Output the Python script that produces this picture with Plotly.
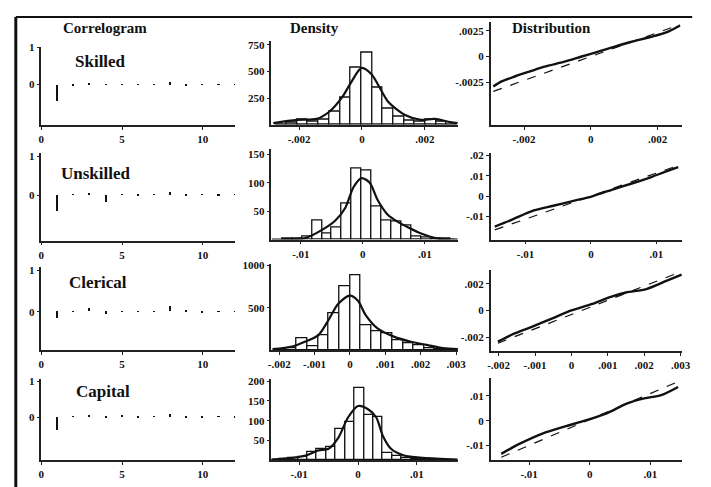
import plotly.graph_objects as go

W, H = 711, 487

# ---------------- data ----------------
row_names = ["Skilled", "Unskilled", "Clerical", "Capital"]

# Correlogram: autocorrelation by lag
lags = list(range(1, 13))
acf_skilled = [-0.45, -0.05, 0.05, 0.01, -0.01, 0.01, -0.01, 0.08, -0.04, 0.01, -0.01, 0.01]
acf_unskilled = [-0.43, 0.01, 0.05, -0.18, 0.01, -0.01, 0.01, 0.07, -0.01, 0.01, -0.01, 0.01]
acf_clerical = [-0.16, 0.01, 0.08, -0.06, 0.01, -0.01, 0.01, 0.12, 0.03, -0.03, 0.01, -0.01]
acf_capital = [-0.38, 0.01, 0.06, -0.03, 0.05, -0.01, 0.01, 0.09, -0.01, -0.03, 0.01, -0.01]

# Density: histogram bins (centres, heights, width) and kernel density curve
hist_skilled_x = [-0.00257, -0.00223, -0.00189, -0.00155, -0.00121, -0.00087, -0.00053, -0.00019,
                  0.00015, 0.00049, 0.00083, 0.00117, 0.00151, 0.00185, 0.00219, 0.00253, 0.00287]
hist_skilled_y = [5, 20, 50, 30, 45, 122, 259, 534, 677, 350, 152, 76, 35, 25, 45, 30, 5]
hist_skilled_w = 0.00034
kde_skilled_x = [-0.00282, -0.00207, -0.00144, -0.00104, -0.00063, -0.00035, -0.00001, 0.00031,
                 0.00053, 0.00084, 0.00137, 0.00187, 0.00231, 0.00281, 0.00304]
kde_skilled_y = [15, 46, 55, 122, 259, 396, 534, 472, 366, 213, 91, 46, 55, 24, 15]

hist_unskilled_x = [-0.0122, -0.0106, -0.009, -0.0074, -0.0058, -0.0042, -0.0026, -0.001, 0.0006,
                    0.0022, 0.0038, 0.0054, 0.007, 0.0086, 0.0102, 0.0118, 0.0134]
hist_unskilled_y = [1, 2, 5, 33, 11, 22, 64, 125, 122, 58, 33, 31, 25, 6, 3, 1, 1]
hist_unskilled_w = 0.0016
kde_unskilled_x = [-0.0147, -0.0092, -0.00658, -0.00448, -0.00282, -0.00151, -0.0002, 0.00111,
                   0.00242, 0.00399, 0.00565, 0.00722, 0.00931, 0.01193, 0.0153]
kde_unskilled_y = [0, 3, 17, 33, 56, 92, 108, 100, 69, 44, 31, 22, 11, 2, 0]

hist_clerical_x = [-0.00195, -0.00165, -0.00135, -0.00105, -0.00075, -0.00045, -0.00015, 0.00015,
                   0.00045, 0.00075, 0.00105, 0.00135, 0.00165, 0.00195, 0.00225, 0.00255, 0.00285]
hist_clerical_y = [10, 25, 142, 54, 180, 430, 757, 885, 296, 219, 200, 123, 85, 65, 27, 10, 5]
hist_clerical_w = 0.0003
kde_clerical_x = [-0.00219, -0.00163, -0.00126, -0.00089, -0.00061, -0.00033, 0.0, 0.00022, 0.00045,
                  0.00078, 0.00124, 0.0017, 0.00217, 0.00263, 0.00305]
kde_clerical_y = [15, 46, 104, 180, 354, 546, 642, 585, 412, 258, 162, 104, 65, 27, 15]

hist_capital_x = [-0.0142, -0.0126, -0.011, -0.0094, -0.0078, -0.0062, -0.0046, -0.003, -0.0014,
                  0.0002, 0.0018, 0.0034, 0.005, 0.0066, 0.0082, 0.0098, 0.0114, 0.013]
hist_capital_y = [1, 2, 5, 8, 21, 29, 33, 79, 96, 183, 115, 110, 18, 10, 6, 4, 2, 1]
hist_capital_w = 0.0016
kde_capital_x = [-0.0147, -0.0111, -0.0089, -0.0067, -0.005, -0.0033, -0.0017, 0.0, 0.0017, 0.0031,
                 0.0042, 0.0056, 0.0078, 0.0111, 0.0169]
kde_capital_y = [2, 6, 12, 25, 29, 58, 108, 137, 129, 108, 62, 29, 12, 6, 2]

# Distribution: quantile plot (solid) and fitted normal line (dashed)
q_skilled_x = [-0.00292, -0.00267, -0.00228, -0.00178, -0.00139, -0.00079, -0.0003, 0.0002, 0.00069,
               0.00119, 0.00178, 0.00228, 0.00267]
q_skilled_y = [-0.00289, -0.00241, -0.00193, -0.00139, -0.00098, -0.0005, -0.00002, 0.00046, 0.00094,
               0.00141, 0.00189, 0.00237, 0.00301]
ref_skilled_x = [-0.00292, 0.00267]
ref_skilled_y = [-0.00337, 0.00309]

q_unskilled_x = [-0.01471, -0.01224, -0.00874, -0.00576, -0.00269, 0.0003, 0.00329, 0.00636, 0.00934,
                 0.0113, 0.01335]
q_unskilled_y = [-0.0151, -0.0119, -0.0071, -0.0048, -0.0024, 0.0, 0.0032, 0.0063, 0.0095, 0.0119, 0.0143]
ref_unskilled_x = [-0.01471, 0.01361]
ref_unskilled_y = [-0.0167, 0.0154]

q_clerical_x = [-0.00202, -0.00156, -0.00109, -0.00054, 0.0, 0.00057, 0.00104, 0.0015, 0.00206,
                0.00261, 0.00303]
q_clerical_y = [-0.00232, -0.00171, -0.00122, -0.00061, 0.0, 0.00049, 0.00098, 0.00134, 0.00159,
                0.0022, 0.00268]
ref_clerical_x = [-0.00202, 0.00305]
ref_clerical_y = [-0.00244, 0.00293]

q_capital_x = [-0.0146, -0.0117, -0.0078, -0.0039, -0.0008, 0.0028, 0.0061, 0.009, 0.0118, 0.0146]
q_capital_y = [-0.0134, -0.0095, -0.0052, -0.0022, 0.0, 0.003, 0.0069, 0.009, 0.0103, 0.0136]
ref_capital_x = [-0.0146, 0.0150]
ref_capital_y = [-0.0148, 0.0162]

# Tick labels
corr_xticks = [0, 5, 10]
corr_yticks = [0, 1]
dens_xticks = [
    ([-0.002, 0, 0.002], ["-.002", "0", ".002"]),
    ([-0.01, 0, 0.01], ["-.01", "0", ".01"]),
    ([-0.002, -0.001, 0, 0.001, 0.002, 0.003], ["-.002", "-.001", "0", ".001", ".002", ".003"]),
    ([-0.01, 0, 0.01], ["-.01", "0", ".01"]),
]
dens_yticks = [[250, 500, 750], [50, 100, 150], [500, 1000], [50, 100, 150, 200]]
dist_yticks = [
    ([-0.0025, 0, 0.0025], ["-.0025", "0", ".0025"]),
    ([-0.01, 0, 0.01, 0.02], ["-.01", "0", ".01", ".02"]),
    ([-0.002, 0, 0.002], ["-.002", "0", ".002"]),
    ([-0.01, 0, 0.01], ["-.01", "0", ".01"]),
]

acfs = [acf_skilled, acf_unskilled, acf_clerical, acf_capital]
hists = [(hist_skilled_x, hist_skilled_y, hist_skilled_w),
         (hist_unskilled_x, hist_unskilled_y, hist_unskilled_w),
         (hist_clerical_x, hist_clerical_y, hist_clerical_w),
         (hist_capital_x, hist_capital_y, hist_capital_w)]
kdes = [(kde_skilled_x, kde_skilled_y), (kde_unskilled_x, kde_unskilled_y),
        (kde_clerical_x, kde_clerical_y), (kde_capital_x, kde_capital_y)]
qqs = [(q_skilled_x, q_skilled_y, ref_skilled_x, ref_skilled_y),
       (q_unskilled_x, q_unskilled_y, ref_unskilled_x, ref_unskilled_y),
       (q_clerical_x, q_clerical_y, ref_clerical_x, ref_clerical_y),
       (q_capital_x, q_capital_y, ref_capital_x, ref_capital_y)]

# ---------------- layout geometry (pixels) ----------------
col_px = [(38, 235), (272, 462), (495, 690)]
# per row: (top, bottom) pixel extent of each panel's plot area
corr_rows = [(42, 121), (150, 238), (265, 349), (378, 460)]
dens_rows = [(36, 121), (145, 237), (262, 349), (378, 460)]
dist_rows = [(17, 121), (150, 237), (268, 350), (377, 460)]
corr_yrange = [[-1.1, 1.02], [-1.18, 1.08], [-0.93, 1.07], [-1.22, 1.07]]
dens_xrange = [[-0.00288, 0.00306], [-0.01476, 0.0154], [-0.00222, 0.00306], [-0.0147, 0.0170]]
dens_yrange = [[0, 790], [0, 160], [0, 1010], [0, 205]]
dist_xrange = [[-0.0030, 0.00274], [-0.01534, 0.01398], [-0.00222, 0.00305], [-0.01635, 0.0153]]
dist_yrange = [[-0.0066, 0.00336], [-0.02146, 0.0210], [-0.00305, 0.0030], [-0.016, 0.0172]]

FONT = "Liberation Serif"
INK = "#111111"
tick_font = dict(family=FONT, size=11, color=INK, weight="bold")
common = dict(showline=True, linecolor="#222222", linewidth=1.5, ticks="outside", ticklen=3,
              tickwidth=1, tickcolor="#222222", showgrid=False, zeroline=False,
              tickfont=tick_font, fixedrange=True)

fig = go.Figure()
axes = {}


def names(p):
    return ("xaxis" if p == 1 else f"xaxis{p}", "yaxis" if p == 1 else f"yaxis{p}",
            "x" if p == 1 else f"x{p}", "y" if p == 1 else f"y{p}")


def set_axes(p, col, rows_px, xr, yr, xtv, xtt, ytv, ytt):
    xa, ya, xref, yref = names(p)
    x0, x1 = col_px[col]
    top, bot = rows_px
    axes[xa] = dict(domain=[x0 / W, x1 / W], range=xr, anchor=yref,
                    tickmode="array", tickvals=xtv, ticktext=xtt, **common)
    axes[ya] = dict(domain=[1 - bot / H, 1 - top / H], range=yr, anchor=xref,
                    tickmode="array", tickvals=ytv, ticktext=ytt, **common)
    return xref, yref


for r in range(4):
    # Correlogram
    p = r * 3 + 1
    xref, yref = set_axes(p, 0, corr_rows[r], [0, 12], corr_yrange[r],
                          corr_xticks, [str(v) for v in corr_xticks],
                          corr_yticks, [str(v) for v in corr_yticks])
    fig.add_trace(go.Bar(x=lags, y=acfs[r], width=0.13, marker=dict(color=INK, line=dict(width=0)),
                         xaxis=xref, yaxis=yref, showlegend=False))

    # Density
    p = r * 3 + 2
    xtv, xtt = dens_xticks[r]
    xref, yref = set_axes(p, 1, dens_rows[r], dens_xrange[r], dens_yrange[r],
                          xtv, xtt, dens_yticks[r], [str(v) for v in dens_yticks[r]])
    hx, hy, hw = hists[r]
    fig.add_trace(go.Bar(x=hx, y=hy, width=hw,
                         marker=dict(color="white", line=dict(color=INK, width=1.3)),
                         xaxis=xref, yaxis=yref, showlegend=False))
    kx, ky = kdes[r]
    fig.add_trace(go.Scatter(x=kx, y=ky, mode="lines",
                             line=dict(color=INK, width=2.2, shape="spline", smoothing=0.8),
                             xaxis=xref, yaxis=yref, showlegend=False))

    # Distribution
    p = r * 3 + 3
    ytv, ytt = dist_yticks[r]
    xref, yref = set_axes(p, 2, dist_rows[r], dist_xrange[r], dist_yrange[r],
                          xtv, xtt, ytv, ytt)
    qx, qy, rx, ry = qqs[r]
    fig.add_trace(go.Scatter(x=rx, y=ry, mode="lines", line=dict(color=INK, width=1.2, dash="dash"),
                             xaxis=xref, yaxis=yref, showlegend=False))
    fig.add_trace(go.Scatter(x=qx, y=qy, mode="lines",
                             line=dict(color=INK, width=2.4, shape="spline", smoothing=0.8),
                             xaxis=xref, yaxis=yref, showlegend=False))


def px_ann(text, x, y, size):
    return dict(text=text, x=x / W, y=1 - y / H, xref="paper", yref="paper",
                xanchor="left", yanchor="middle", showarrow=False,
                font=dict(family=FONT, size=size, color=INK, weight="bold"))


annotations = [
    px_ann("Correlogram", 58, 23, 15),
    px_ann("Density", 289, 23, 15),
    px_ann("Distribution", 515, 23, 15),
]
row_label_pos = [(70, 57), (56, 170), (64, 280), (71, 391)]
for name, (lx, ly) in zip(row_names, row_label_pos):
    annotations.append(px_ann(name, lx, ly, 17))

shapes = [
    dict(type="line", xref="paper", yref="paper", x0=12 / W, x1=700 / W, y0=1 - 12 / H, y1=1 - 12 / H,
         line=dict(color=INK, width=2)),
    dict(type="line", xref="paper", yref="paper", x0=12 / W, x1=12 / W, y0=1 - 12 / H, y1=0,
         line=dict(color=INK, width=3)),
]

fig.update_layout(width=W, height=H, margin=dict(l=0, r=0, t=0, b=0),
                  paper_bgcolor="white", plot_bgcolor="white",
                  bargap=0, barmode="overlay",
                  annotations=annotations, shapes=shapes, **axes)

fig.write_html("out.html", config={"displayModeBar": False})
